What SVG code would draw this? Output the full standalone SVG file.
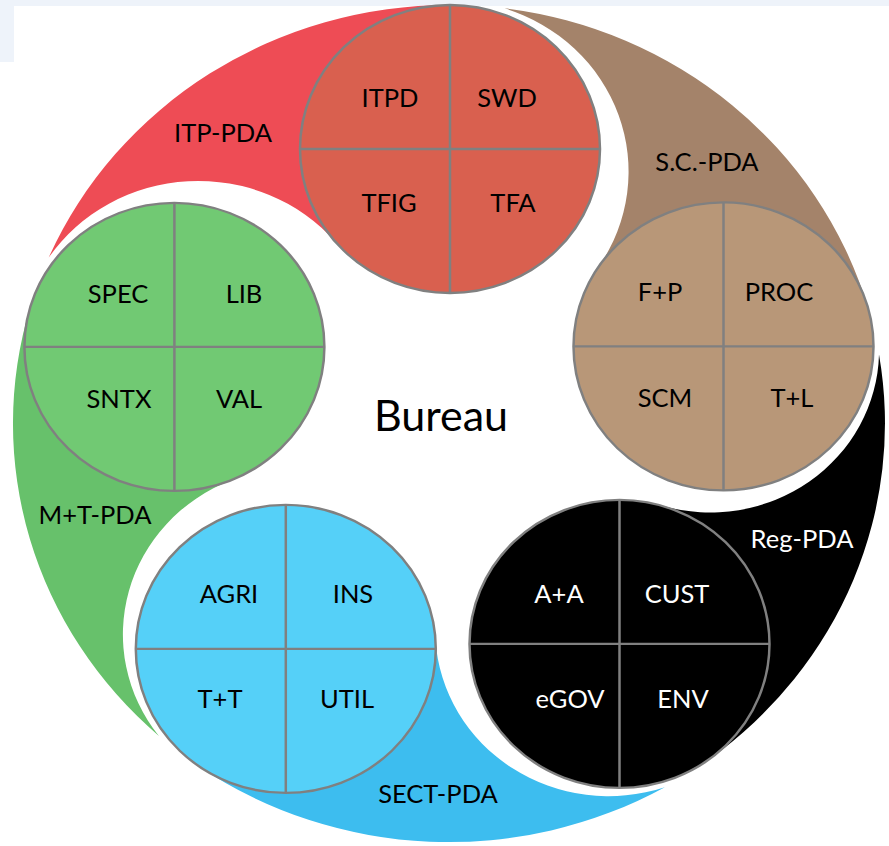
<svg xmlns="http://www.w3.org/2000/svg" width="889" height="846" viewBox="0 0 889 846">
<style>
.lbl{font-family:Lato,"Open Sans","Liberation Sans",sans-serif;font-size:25.5px;text-anchor:middle;fill:#000}
.w{fill:#fff}
.big{font-size:43px}
.ring{stroke:#808080;stroke-width:2.5}
.div{stroke:#808080;stroke-width:2.5;fill:none}
</style>
<rect width="889" height="846" fill="#fff"/>
<rect x="0" y="0" width="889" height="6" fill="#eef3fa"/>
<rect x="0" y="0" width="14" height="62" fill="#eef3fa"/>

<g id="itp-pda">
  <g transform="translate(449 423.5) scale(1 0.96)">
    <path fill="#EE4C55" d="M-400.3,-172.8 A436,436 0 0 1 1.52,-436 L1,-286 L-113.48,-189.07 A179.85,179.85 0 0 0 -400.3,-172.8 Z"/>
    <circle class="ring" cx="1" cy="-286" r="150" fill="#D9604F"/>
    <path class="div" d="M-149,-286 H151 M1,-436 V-136"/>
  </g>
  <text class="lbl" x="223" y="142">ITP-PDA</text>
  <text class="lbl" x="390" y="107">ITPD</text>
  <text class="lbl" x="507" y="107">SWD</text>
  <text class="lbl" x="389" y="212">TFIG</text>
  <text class="lbl" x="513" y="212">TFA</text>
</g>

<g id="sc-pda">
  <g transform="translate(449 423.5) scale(1 0.96)">
    <path fill="#A4836A" d="M55.5,-432.5 A436,436 0 0 1 418.4,-122.4 L274.5,-80.3 L149.63,-163.4 A178.63,178.63 0 0 0 55.5,-432.5 Z"/>
    <circle class="ring" cx="274.5" cy="-80.3" r="150" fill="#B89778"/>
    <path class="div" d="M124.5,-80.3 H424.5 M274.5,-230.3 V69.7"/>
  </g>
  <text class="lbl" x="707" y="171">S.C.-PDA</text>
  <text class="lbl" x="660" y="301">F+P</text>
  <text class="lbl" x="779" y="301">PROC</text>
  <text class="lbl" x="665" y="407">SCM</text>
  <text class="lbl" x="792" y="407">T+L</text>
</g>

<g id="reg-pda">
  <g transform="translate(449 423.5) scale(1 0.96)">
    <path fill="#000000" d="M430,-72 A436,436 0 0 1 259.9,350 L170.5,229.6 L213.05,85.76 A169.06,169.06 0 0 0 430,-72 Z"/>
    <circle class="ring" cx="170.5" cy="229.6" r="150" fill="#000000"/>
    <path class="div" d="M20.5,229.6 H320.5 M170.5,79.6 V379.6"/>
  </g>
  <text class="lbl w" x="802" y="548">Reg-PDA</text>
  <text class="lbl w" x="559" y="603">A+A</text>
  <text class="lbl w" x="677" y="603">CUST</text>
  <text class="lbl w" x="570" y="708">eGOV</text>
  <text class="lbl w" x="683" y="708">ENV</text>
</g>

<g id="sect-pda">
  <g transform="translate(449 423.5) scale(1 0.96)">
    <path fill="#3DBDEF" d="M215.8,378.8 A436,436 0 0 1 -248.9,358.1 L-163.2,234.8 L-13.49,225.55 A173.36,173.36 0 0 0 215.8,378.8 Z"/>
    <circle class="ring" cx="-163.2" cy="234.8" r="150" fill="#55D0F8"/>
    <path class="div" d="M-313.2,234.8 H-13.2 M-163.2,84.8 V384.8"/>
  </g>
  <text class="lbl" x="438" y="803">SECT-PDA</text>
  <text class="lbl" x="229" y="603">AGRI</text>
  <text class="lbl" x="353" y="603">INS</text>
  <text class="lbl" x="220" y="708">T+T</text>
  <text class="lbl" x="347" y="708">UTIL</text>
</g>

<g id="mt-pda">
  <g transform="translate(449 423.5) scale(1 0.96)">
    <path fill="#67C16B" d="M-290.1,325.5 A436,436 0 0 1 -418.7,-121.7 L-274.6,-79.8 L-218.06,59.14 A173.36,173.36 0 0 0 -290.1,325.5 Z"/>
    <circle class="ring" cx="-274.6" cy="-79.8" r="150" fill="#71C973"/>
    <path class="div" d="M-424.6,-79.8 H-124.6 M-274.6,-229.8 V70.2"/>
  </g>
  <text class="lbl" x="95" y="524">M+T-PDA</text>
  <text class="lbl" x="118" y="303">SPEC</text>
  <text class="lbl" x="244" y="303">LIB</text>
  <text class="lbl" x="119" y="408">SNTX</text>
  <text class="lbl" x="239" y="408">VAL</text>
</g>

<g id="bureau">
  <text class="lbl big" x="441" y="431">Bureau</text>
</g>
</svg>
